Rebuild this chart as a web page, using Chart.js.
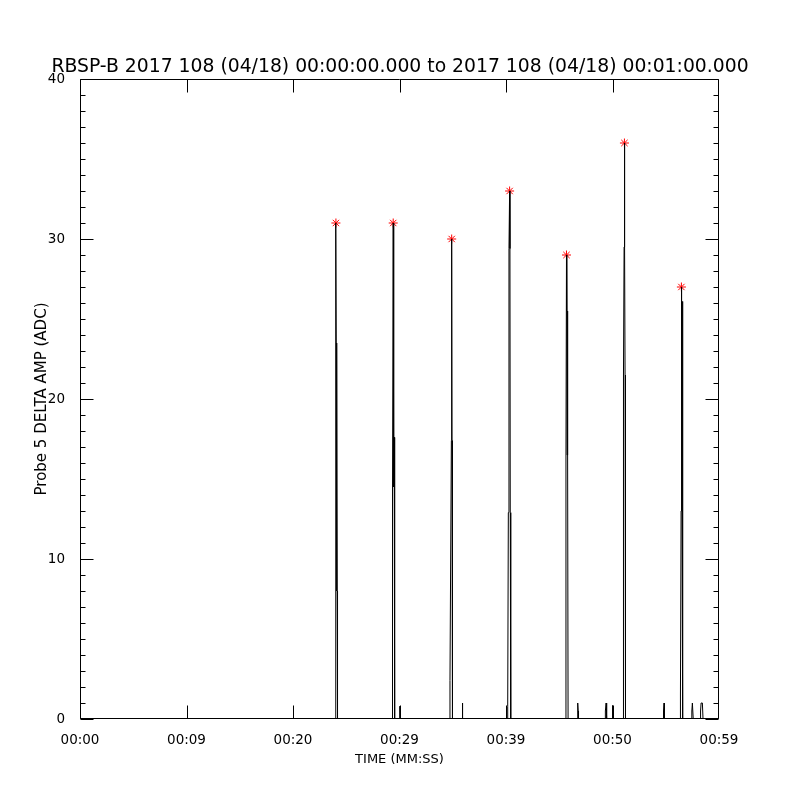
<!DOCTYPE html>
<html>
<head>
<meta charset="utf-8">
<script src="https://cdn.jsdelivr.net/npm/chart.js@4.4.1/dist/chart.umd.min.js"></script>
<style>
  html, body { margin: 0; padding: 0; background: #fff; }
  canvas { display: block; }
</style>
</head>
<body>
<canvas id="grafico" width="800" height="800"></canvas>
<script>
// Serie: tiempo (s) y amplitud (ADC)
const timeSec = [
    0,
    23.97, 24.00, 24.03, 24.06, 24.09, 24.12, 24.15, 24.18,
    29.30, 29.33, 29.36, 29.41, 29.44, 29.47, 29.50, 29.53, 29.56,
    30.01, 30.03, 30.05,
    34.71, 34.74, 34.80, 34.87, 34.90, 34.93, 34.96, 34.99,
    35.87, 35.89, 35.92, 35.95,
    40.13, 40.16, 40.22, 40.28, 40.34, 40.37, 40.40, 40.43, 40.46,
    45.60, 45.63, 45.68, 45.71, 45.74, 45.77, 45.80, 45.83,
    46.70, 46.72, 46.75, 46.78, 46.81,
    49.30, 49.33, 49.40, 49.45,
    49.98, 50.00, 50.02,
    51.00, 51.03, 51.09, 51.12, 51.15, 51.18, 51.22,
    54.76, 54.79, 54.84, 54.88,
    56.35, 56.38, 56.44, 56.47, 56.50, 56.53, 56.56, 56.59, 56.61,
    57.42, 57.45, 57.50, 57.55, 57.58,
    58.24, 58.27, 58.32, 58.38, 58.44, 58.50,
    60
];
const ampAdc = [
    0,
    0, 7, 31, 23.5, 8, 23.5, 8, 0,
    0, 0.4, 14.5, 31, 17.6, 14.5, 17.6, 2.0, 0,
    0, 0.8, 0,
    0, 2.4, 9.5, 17.4, 30, 17.4, 9.5, 0,
    0, 0.4, 1.0, 0,
    0, 0.8, 12.9, 29.4, 33, 29.4, 12.9, 2.5, 0,
    0, 16.5, 29, 25.5, 16.5, 25.5, 16.5, 0,
    0, 1.0, 1.0, 0.5, 0,
    0, 0.5, 1.0, 0,
    0, 0.85, 0,
    0, 21.5, 29.5, 36, 29.5, 21.5, 0,
    0, 0.5, 1.0, 0,
    0, 1.5, 13, 27, 26.1, 13, 26.1, 13, 0,
    0, 0.5, 1.0, 1.0, 0,
    0, 0.5, 1.0, 1.0, 1.0, 0,
    0
];

// Picos marcados con asterisco rojo
const peakTimes = [24.03, 29.41, 34.90, 40.34, 45.68, 51.12, 56.47];
const peakAmps = [31, 31, 30, 33, 29, 36, 27];

// Etiquetas de los ejes
const xTickValues = [0, 10, 20, 30, 40, 50, 60];
const xTickLabels = ['00:00', '00:09', '00:20', '00:29', '00:39', '00:50', '00:59'];
const yTickValues = [0, 10, 20, 30, 40];

const tituloGrafico = 'RBSP-B 2017 108 (04/18) 00:00:00.000 to 2017 108 (04/18) 00:01:00.000';
const fuente = 'DejaVu Sans';

// Marco y marcas hacia adentro (estilo IDL)
const marcasEjes = {
    id: 'marcasEjes',
    afterDatasetsDraw(chart) {
        const { ctx, chartArea: a, scales: { x, y } } = chart;
        const L = Math.round(a.left) + 0.5, R = Math.round(a.right) - 0.5;
        const T = Math.round(a.top) + 0.5, B = Math.round(a.bottom) - 0.5;
        ctx.save();
        ctx.strokeStyle = '#000';
        ctx.lineWidth = 1;
        ctx.beginPath();
        ctx.rect(L, T, R - L, B - T);
        // eje x: mayores arriba y abajo
        xTickValues.forEach(v => {
            const px = Math.min(Math.round(x.getPixelForValue(v)) + 0.5, R);
            ctx.moveTo(px, B); ctx.lineTo(px, B - 13);
            ctx.moveTo(px, T); ctx.lineTo(px, T + 13);
        });
        // eje y: mayores cada 10, menores cada 1
        for (let v = 0; v <= 40; v++) {
            const py = Math.round(y.getPixelForValue(v)) + 0.5;
            const len = v % 10 === 0 ? 13 : 5;
            ctx.moveTo(L, py); ctx.lineTo(L + len, py);
            ctx.moveTo(R, py); ctx.lineTo(R - len, py);
        }
        ctx.stroke();
        ctx.restore();
    }
};

new Chart(document.getElementById('grafico'), {
    type: 'line',
    data: {
        datasets: [
            {
                label: 'Probe 5',
                data: timeSec.map((t, i) => ({ x: t, y: ampAdc[i] })),
                borderColor: '#000',
                borderWidth: 1,
                pointRadius: 0,
                tension: 0
            },
            {
                label: 'Picos',
                data: peakTimes.map((t, i) => ({ x: t, y: peakAmps[i] })),
                showLine: false,
                pointStyle: 'star',
                pointRadius: 4.5,
                borderColor: '#ff0000',
                backgroundColor: '#ff0000',
                borderWidth: 1
            }
        ]
    },
    options: {
        responsive: false,
        animation: false,
        layout: { padding: 0 },
        plugins: {
            legend: { display: false },
            tooltip: { enabled: false },
            title: {
                display: true,
                text: tituloGrafico,
                color: '#000',
                font: { family: fuente, size: 18.8, weight: 'normal', lineHeight: 1.2 },
                padding: { top: 55.5, bottom: 0.94 }
            }
        },
        scales: {
            x: {
                type: 'linear',
                min: 0,
                max: 60,
                afterFit: s => { s.height = 81; },
                afterBuildTicks: s => { s.ticks = xTickValues.map(v => ({ value: v })); },
                grid: { display: false },
                border: { display: false },
                ticks: {
                    autoSkip: false,
                    maxRotation: 0,
                    padding: 5,
                    color: '#000',
                    font: { family: fuente, size: 13.5 },
                    callback: (v) => xTickLabels[xTickValues.indexOf(v)]
                },
                title: {
                    display: true,
                    text: 'TIME (MM:SS)',
                    color: '#000',
                    font: { family: fuente, size: 13, lineHeight: 1.2 },
                    padding: { top: 0, bottom: 32.5 }
                }
            },
            y: {
                min: 0,
                max: 40,
                afterFit: s => { s.width = 80; },
                afterBuildTicks: s => { s.ticks = yTickValues.map(v => ({ value: v })); },
                grid: { display: false },
                border: { display: false },
                ticks: {
                    padding: 7,
                    color: '#000',
                    font: { family: fuente, size: 13.5 }
                },
                title: {
                    display: true,
                    text: 'Probe 5 DELTA AMP (ADC)',
                    color: '#000',
                    font: { family: fuente, size: 15, lineHeight: 1.2 },
                    padding: { top: 33, bottom: 0 }
                }
            },
            // eje vacío a la derecha solo para reservar el margen
            derecha: {
                type: 'linear',
                position: 'right',
                min: 0,
                max: 40,
                afterFit: s => { s.width = 81; },
                grid: { display: false },
                border: { display: false },
                ticks: { display: false }
            }
        }
    },
    plugins: [marcasEjes]
});
</script>
</body>
</html>
